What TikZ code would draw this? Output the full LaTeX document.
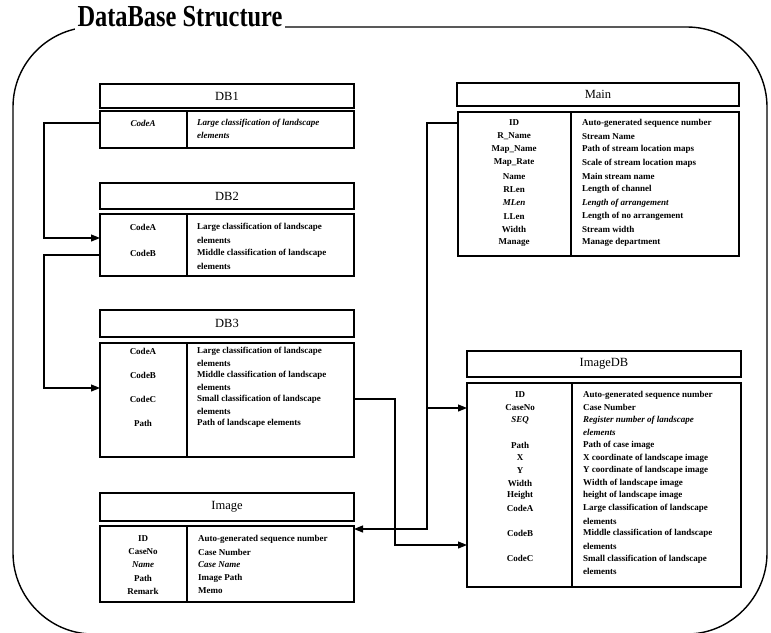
\documentclass[tikz,border=0pt]{standalone}
\usepackage{fontspec}
\setmainfont{Liberation Serif}
\usetikzlibrary{arrows.meta}
\tikzset{
  tbox/.style={draw, line width=1.3pt, inner sep=0pt, outer sep=0pt},
  htxt/.style={font=\fontsize{12.5}{13}\selectfont},
  fld/.style={font=\fontsize{9}{10}\selectfont\bfseries, inner sep=0pt, anchor=center},
  dsc/.style={font=\fontsize{9}{10}\selectfont\bfseries, inner sep=0pt, anchor=west},
  conn/.style={line width=1.1pt, -{Triangle[length=9pt,width=7pt]}},
  divl/.style={line width=1.3pt}
}
\begin{document}
\begin{tikzpicture}[x=1pt,y=-1pt]
\useasboundingbox (0,0) rectangle (771,632);
% outer frame
\draw[line width=1.4pt] (93,27) -- (687,27) .. controls (731,27) and (767,63) .. (767,107)
  -- (767,553) .. controls (767,597) and (731,634) .. (687,634) -- (93,634)
  .. controls (49,634) and (13,597) .. (13,553) -- (13,107)
  .. controls (13,63) and (49,27) .. (93,27);
\node[fill=white, inner sep=3pt] (title) at (180,17) {\scalebox{0.8}[1]{\fontsize{30.5}{31}\selectfont\bfseries DataBase Structure}};

% DB1
\node[tbox, minimum width=254pt, minimum height=24pt] (db1h) at (227,96) {};
\node[htxt] (db1t) at (db1h) {DB1};
\node[tbox, minimum width=254pt, minimum height=37pt] (db1b) at (227,129.5) {};
\draw[divl] (187,111) -- (187,148);
\node[fld] (db1f1) at (143,123) {\itshape CodeA};
\node[dsc] (db1d1) at (197,123) {\itshape Large classification of landscape};
\node[dsc] (db1d1b) at (197,135) {\itshape elements};

% DB2
\node[tbox, minimum width=254pt, minimum height=26pt] (db2h) at (227,196) {};
\node[htxt] (db2t) at (db2h) {DB2};
\node[tbox, minimum width=254pt, minimum height=62pt] (db2b) at (227,245) {};
\draw[divl] (187,214) -- (187,276);
\node[fld] (db2f1) at (143,227) {CodeA};
\node[dsc] (db2d1) at (197,227) {Large classification of landscape};
\node[dsc] (db2d1b) at (197,240) {elements};
\node[fld] (db2f2) at (143,253) {CodeB};
\node[dsc] (db2d2) at (197,253) {Middle classification of landscape};
\node[dsc] (db2d2b) at (197,266) {elements};

% DB3
\node[tbox, minimum width=254pt, minimum height=27pt] (db3h) at (227,323.5) {};
\node[htxt] (db3t) at (db3h) {DB3};
\node[tbox, minimum width=254pt, minimum height=114pt] (db3b) at (227,400) {};
\draw[divl] (187,343) -- (187,457);
\node[fld] (db3f1) at (143,351) {CodeA};
\node[dsc] (db3d1) at (197,351) {Large classification of landscape};
\node[dsc] (db3d1b) at (197,363) {elements};
\node[fld] (db3f2) at (143,375) {CodeB};
\node[dsc] (db3d2) at (197,375) {Middle classification of landscape};
\node[dsc] (db3d2b) at (197,387) {elements};
\node[fld] (db3f3) at (143,399) {CodeC};
\node[dsc] (db3d3) at (197,399) {Small classification of landscape};
\node[dsc] (db3d3b) at (197,411) {elements};
\node[fld] (db3f4) at (143,423) {Path};
\node[dsc] (db3d4) at (197,423) {Path of landscape elements};

% Image
\node[tbox, minimum width=254pt, minimum height=28pt] (imgh) at (227,507) {};
\node[htxt] (imgt) at (imgh) {Image};
\node[tbox, minimum width=254pt, minimum height=76pt] (imgb) at (227,564) {};
\draw[divl] (187,526) -- (187,602);
\node[fld] (imgf1) at (143,539) {ID};
\node[dsc] (imgd1) at (198,539) {Auto-generated sequence number};
\node[fld] (imgf2) at (143,552) {CaseNo};
\node[dsc] (imgd2) at (198,552) {Case Number};
\node[fld] (imgf3) at (143,565) {\itshape Name};
\node[dsc] (imgd3) at (198,565) {\itshape Case Name};
\node[fld] (imgf4) at (143,578) {Path};
\node[dsc] (imgd4) at (198,578) {Image Path};
\node[fld] (imgf5) at (143,591) {Remark};
\node[dsc] (imgd5) at (198,591) {Memo};

% Main
\node[tbox, minimum width=282pt, minimum height=23pt] (mainh) at (598,94.5) {};
\node[htxt] (maint) at (mainh) {Main};
\node[tbox, minimum width=281pt, minimum height=144pt] (mainb) at (598.5,184) {};
\draw[divl] (571,112) -- (571,256);
\node[fld] (mf1) at (514,123) {ID};
\node[dsc] (md1) at (582,123) {Auto-generated sequence number};
\node[fld] (mf2) at (514,136.3) {R\_Name};
\node[dsc] (md2) at (582,136.3) {Stream Name};
\node[fld] (mf3) at (514,149.6) {Map\_Name};
\node[dsc] (md3) at (582,149.6) {Path of stream location maps};
\node[fld] (mf4) at (514,162.9) {Map\_Rate};
\node[dsc] (md4) at (582,162.9) {Scale of stream location maps};
\node[fld] (mf5) at (514,176.2) {Name};
\node[dsc] (md5) at (582,176.2) {Main stream name};
\node[fld] (mf6) at (514,189.5) {RLen};
\node[dsc] (md6) at (582,189.5) {Length of channel};
\node[fld] (mf7) at (514,202.8) {\itshape MLen};
\node[dsc] (md7) at (582,202.8) {\itshape Length of arrangement};
\node[fld] (mf8) at (514,216.1) {LLen};
\node[dsc] (md8) at (582,216.1) {Length of no arrangement};
\node[fld] (mf9) at (514,229.4) {Width};
\node[dsc] (md9) at (582,229.4) {Stream width};
\node[fld] (mf10) at (514,242.7) {Manage};
\node[dsc] (md10) at (582,242.7) {Manage department};

% ImageDB
\node[tbox, minimum width=274pt, minimum height=26pt] (idbh) at (604,364) {};
\node[htxt] (idbt) at (idbh) {ImageDB};
\node[tbox, minimum width=274pt, minimum height=204pt] (idbb) at (604,485) {};
\draw[divl] (572,383) -- (572,587);
\node[fld] (if1) at (520,395) {ID};
\node[dsc] (id1) at (583,395) {Auto-generated sequence number};
\node[fld] (if2) at (520,407.6) {CaseNo};
\node[dsc] (id2) at (583,407.6) {Case Number};
\node[fld] (if3) at (520,420.2) {\itshape SEQ};
\node[dsc] (id3) at (583,420.2) {\itshape Register number of landscape};
\node[dsc] (id3b) at (583,432.8) {\itshape elements};
\node[fld] (if4) at (520,445.4) {Path};
\node[dsc] (id4) at (583,445.4) {Path of case image};
\node[fld] (if5) at (520,458) {X};
\node[dsc] (id5) at (583,458) {X coordinate of landscape image};
\node[fld] (if6) at (520,470.6) {Y};
\node[dsc] (id6) at (583,470.6) {Y coordinate of landscape image};
\node[fld] (if7) at (520,483.2) {Width};
\node[dsc] (id7) at (583,483.2) {Width of landscape image};
\node[fld] (if8) at (520,495.8) {Height};
\node[dsc] (id8) at (583,495.8) {height of landscape image};
\node[fld] (if9) at (520,508.4) {CodeA};
\node[dsc] (id9) at (583,508.4) {Large classification of landscape};
\node[dsc] (id9b) at (583,521) {elements};
\node[fld] (if10) at (520,533.6) {CodeB};
\node[dsc] (id10) at (583,533.6) {Middle classification of landscape};
\node[dsc] (id10b) at (583,546.2) {elements};
\node[fld] (if11) at (520,558.8) {CodeC};
\node[dsc] (id11) at (583,558.8) {Small classification of landscape};
\node[dsc] (id11b) at (583,571.4) {elements};

% connectors
\coordinate (c1a) at (44,123);
\coordinate (c1b) at (44,238);
\coordinate (c2a) at (44,255);
\coordinate (c2b) at (44,388);
\coordinate (c3a) at (395,399);
\coordinate (c3b) at (395,545);
\coordinate (c4a) at (427,123);
\coordinate (c4b) at (427,529);
\coordinate (c5) at (427,408);
\draw[conn] (db1b.west |- c1a) -- (c1a) -- (c1b) -- (db2b.west |- c1b);
\draw[conn] (db2b.west |- c2a) -- (c2a) -- (c2b) -- (db3b.west |- c2b);
\draw[conn] (db3b.east |- c3a) -- (c3a) -- (c3b) -- (idbb.west |- c3b);
\draw[conn] (mainb.west |- c4a) -- (c4a) -- (c4b) -- (imgb.east |- c4b);
\draw[conn] (c5) -- (idbb.west |- c5);
\end{tikzpicture}
\end{document}
